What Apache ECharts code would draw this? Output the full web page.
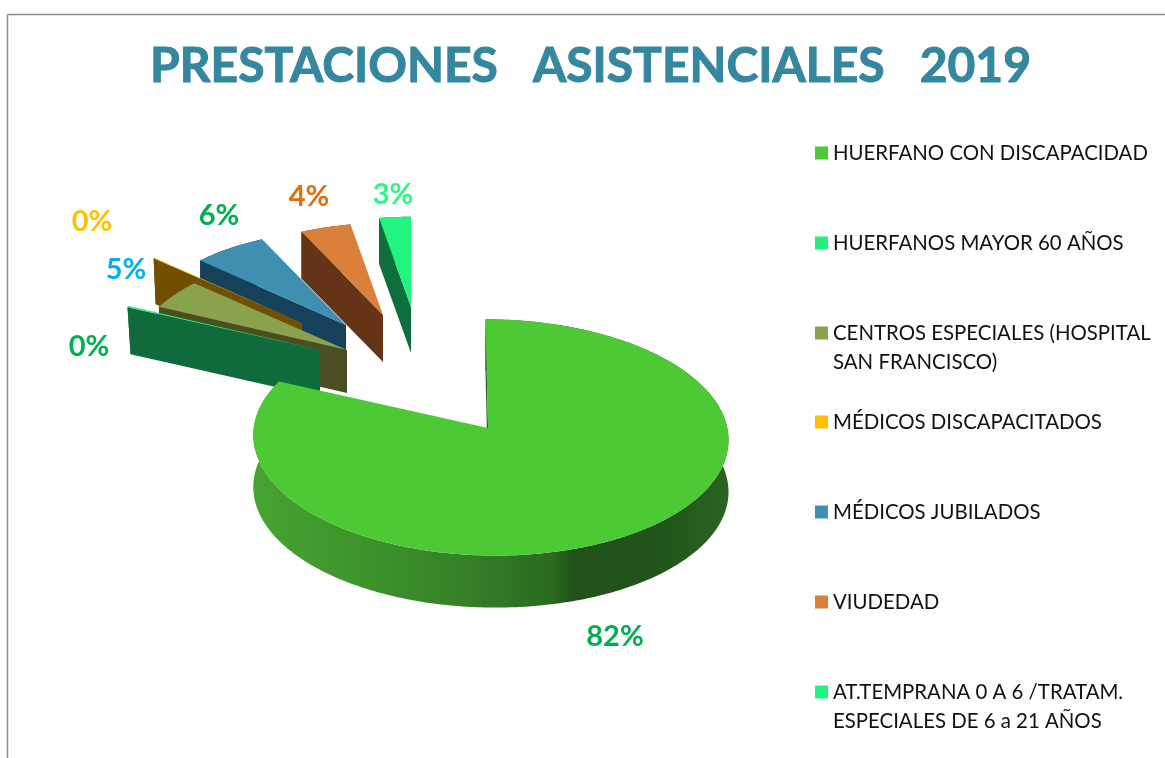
<!DOCTYPE html>
<html>
<head>
<meta charset="utf-8">
<style>html,body{margin:0;padding:0;background:#fff}#c{width:1165px;height:758px}</style>
<script src="https://cdn.jsdelivr.net/npm/echarts@6/dist/echarts.min.js"></script>
</head>
<body>
<div id="c"></div>
<script>
// ---- data ----
const titleText = 'PRESTACIONES   ASISTENCIALES   2019';
const categories = [
  'HUERFANO CON DISCAPACIDAD',
  'HUERFANOS MAYOR 60 AÑOS',
  'CENTROS ESPECIALES (HOSPITAL\nSAN FRANCISCO)',
  'MÉDICOS DISCAPACITADOS',
  'MÉDICOS JUBILADOS',
  'VIUDEDAD',
  'AT.TEMPRANA 0 A 6 /TRATAM.\nESPECIALES DE 6 a 21 AÑOS'
];
const values = [81.7, 0.2, 4.6, 0.1, 6.2, 4.4, 2.8];

// ---- styling and layout ----
const topColors   = ['#4dc936', '#22f07c', '#8aa24e', '#ffc000', '#3f90b0', '#db803a', '#22f57f'];
const wallColors  = ['#1e5a16', '#0f6b3c', '#4b4d22', '#705000', '#17405a', '#633516', '#0e6e3c'];
const labelColors = ['#00b050', '#00b050', '#00b0f0', '#ffc000', '#00b050', '#e46c0a', '#2bf88a'];
const apexes      = [[488,428],[320,350],[347,350],[302,323],[346,325],[383,315],[411,307]];
const arcCentres  = [[490.5,428],[320,350],[347,350],[302,323],[346,325],[383,315],[411,307]];
const radialScale = [0.995, 0.915, 0.90, 0.875, 0.865, 0.84, 0.826];
const depths      = [52, 47, 43, 46, 45, 47, 46];
const wallShift   = [0, 3, 1, 2, 0, 0, 0];
const arcSkew     = [5, 0, 0, 0, 0, 0, 0];
const labelAt     = [[615,637],[89,347],[126,270],[92,222],[219,216],[309,197],[393,195]];
const drawOrder   = [7, 6, 5, 4, 3, 2, 1];
const legendY     = [153, 243, 333, 422, 512, 602, 692];
const LINE_H = 29;
const RX = 238, RY = 118, PERSP = 0.08;

const total = values.reduce((a, b) => a + b, 0);
const cumulative = [];
values.reduce((acc, v, i) => { cumulative[i] = acc; return acc + v; }, 0);

function arcPoint(i, deg, dy, dx) {
  const t = deg * Math.PI / 180, u = Math.sin(t), v = Math.cos(t);
  const s = radialScale[i] / (1 + PERSP * v);
  return [arcCentres[i][0] + RX * u * s - arcSkew[i] * v + dx,
          arcCentres[i][1] - RY * v * s + dy];
}
const greenWall = new echarts.graphic.LinearGradient(0, 0, 1, 0, [
  {offset: 0, color: '#47a331'}, {offset: 0.2, color: '#3f962c'},
  {offset: 0.45, color: '#358028'}, {offset: 0.63, color: '#2a6a20'},
  {offset: 0.67, color: '#20521a'}, {offset: 0.85, color: '#21551a'},
  {offset: 1, color: '#2a6420'}
]);

function renderSlice(i, params, api) {
  const value = api.value(0);
  const a0 = cumulative[i] / total * 360;
  const a1 = a0 + value / total * 360;
  const top = [], under = [];
  const steps = Math.max(2, Math.ceil(a1 - a0));
  for (let k = 0; k <= steps; k++) {
    const a = a0 + (a1 - a0) * k / steps;
    top.push(arcPoint(i, a, 0, 0));
    under.push(arcPoint(i, a, depths[i], wallShift[i]));
  }
  const apex = apexes[i], d = depths[i];
  const wallFill = i === 0 ? greenWall : wallColors[i];
  const poly = (pts, fill) => ({type: 'polygon', shape: {points: pts}, style: {fill: fill}});
  return {
    type: 'group',
    children: [
      poly(top.concat(under.slice().reverse()), wallFill),
      poly([top[0], apex, [apex[0], apex[1] + d], under[0]], wallColors[i]),
      poly([apex].concat(top), topColors[i]),
      {type: 'text', z2: 100, style: {
        text: Math.round(value / total * 100) + '%',
        x: labelAt[i][0], y: labelAt[i][1],
        align: 'center', verticalAlign: 'middle',
        fill: labelColors[i],
        font: 'bold 29px Lato'
      }}
    ]
  };
}

const chart = echarts.init(document.getElementById('c'), null, {renderer: 'canvas'});
chart.setOption({
  animation: false,
  backgroundColor: '#ffffff',
  title: {
    text: titleText, left: 150, top: 43, padding: 0,
    textStyle: {fontFamily: 'Lato', fontWeight: 'bold', fontSize: 48, color: '#35869f',
                textBorderColor: '#35869f', textBorderWidth: 1}
  },
  legend: categories.map((name, i) => {
    const multi = name.includes('\n');
    return {
      data: [name], left: 815, top: legendY[i] - (multi ? 1.5 : 0.5) * LINE_H, padding: 0,
      orient: 'vertical', icon: 'rect', itemWidth: 13, itemHeight: 13, itemGap: 5,
      selectedMode: false,
      formatter: n => n.includes('\n') ? '\n' + n : n,
      textStyle: {fontFamily: 'Lato', fontSize: 20.4, color: '#111111', lineHeight: LINE_H}
    };
  }),
  graphic: [
    {type: 'line', shape: {x1: 7.5, y1: 14.5, x2: 1165, y2: 14.5}, style: {stroke: '#8c8c8c', lineWidth: 1.5}},
    {type: 'line', shape: {x1: 7.5, y1: 14.5, x2: 7.5, y2: 758}, style: {stroke: '#8c8c8c', lineWidth: 1.5}}
  ],
  series: categories.map((name, i) => ({
    type: 'custom', name: name, coordinateSystem: 'none', z: drawOrder[i],
    itemStyle: {color: topColors[i]},
    data: [[values[i]]],
    renderItem: (p, api) => renderSlice(i, p, api)
  }))
});
</script>
</body>
</html>
